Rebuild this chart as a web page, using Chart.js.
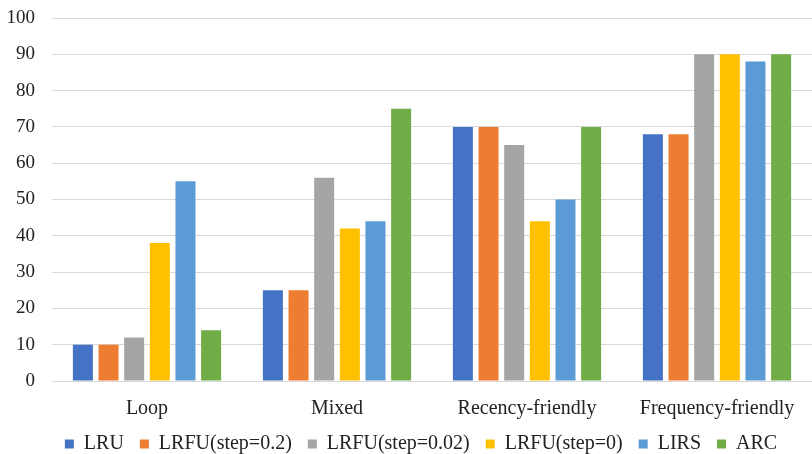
<!DOCTYPE html>
<html>
<head>
<meta charset="utf-8">
<script src="https://cdn.jsdelivr.net/npm/chart.js@4/dist/chart.umd.min.js"></script>
<style>
  html, body { margin: 0; padding: 0; background: #fff; }
  #wrap { width: 812px; height: 454px; position: relative; }
</style>
</head>
<body>
<div id="wrap"><canvas id="chart"></canvas></div>
<script>
const categories = ["Loop", "Mixed", "Recency-friendly", "Frequency-friendly"];
const seriesNames = ["LRU", "LRFU(step=0.2)", "LRFU(step=0.02)", "LRFU(step=0)", "LIRS", "ARC"];
const lru = [10, 25, 70, 68];
const lrfu02 = [10, 25, 70, 68];
const lrfu002 = [12, 56, 65, 90];
const lrfu0 = [38, 42, 44, 90];
const lirs = [55, 44, 50, 88];
const arc = [14, 75, 70, 90];
const colors = ["#4472c4", "#ed7d31", "#a5a5a5", "#ffc000", "#5b9bd5", "#70ad47"];
const yTicks = [0, 10, 20, 30, 40, 50, 60, 70, 80, 90, 100];

const seriesValues = [lru, lrfu02, lrfu002, lrfu0, lirs, arc];
const datasets = seriesNames.map((name, i) => ({
  label: name,
  data: seriesValues[i],
  backgroundColor: colors[i],
  borderWidth: 0,
  categoryPercentage: 0.81,
  barPercentage: 0.78
}));

const serif = "'Liberation Serif', 'Times New Roman', serif";

// nudge the legend: a bit closer to the category labels, centred like the original
const legendNudge = {
  id: "legendNudge",
  afterLayout(chart) {
    const lg = chart.legend;
    if (!lg) return;
    lg.top -= 11;
    lg.bottom -= 11;
    lg.left += 15;
    lg.right += 15;
  }
};

new Chart(document.getElementById("chart"), {
  type: "bar",
  data: { labels: categories, datasets: datasets },
  plugins: [legendNudge],
  options: {
    responsive: true,
    maintainAspectRatio: false,
    animation: false,
    layout: { padding: { left: 0, right: 0, top: 0, bottom: -21 } },
    plugins: {
      legend: {
        position: "bottom",
        labels: {
          font: { family: serif, size: 20 },
          color: "#222",
          boxWidth: 9,
          boxHeight: 9,
          padding: 16
        }
      },
      tooltip: { enabled: false }
    },
    scales: {
      x: {
        grid: { display: false },
        border: { color: "#d9d9d9" },
        ticks: { font: { family: serif, size: 20 }, color: "#222", padding: 8 }
      },
      y: {
        min: 0,
        max: 100,
        afterBuildTicks: (axis) => { axis.ticks = yTicks.map(v => ({ value: v })); },
        afterFit: (scale) => { scale.width = 52; scale.paddingTop = 18; },
        grid: { color: "#d9d9d9", drawTicks: false },
        border: { display: false },
        ticks: { font: { family: serif, size: 19 }, color: "#222", padding: 17 }
      }
    }
  }
});
</script>
</body>
</html>
